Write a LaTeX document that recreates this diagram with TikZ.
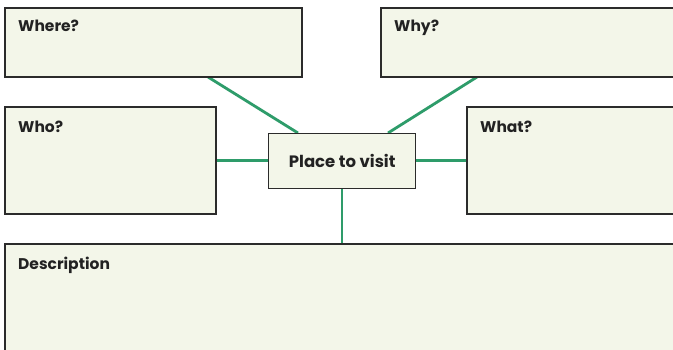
\documentclass[tikz,border=0pt]{standalone}
\usepackage{fontspec}
\setmainfont{Poppins}
\usetikzlibrary{calc}
\pgfdeclarelayer{background}
\pgfsetlayers{background,main}
\definecolor{boxfill}{HTML}{F3F6E9}
\definecolor{boxline}{HTML}{2B2B2B}
\definecolor{conn}{HTML}{2E9C6A}
\definecolor{txt}{HTML}{222222}
\begin{document}
\begin{tikzpicture}[x=1pt,y=-1pt,
  panel/.style={draw=boxline,line width=1.4pt,fill=boxfill},
  lbl/.style={anchor=base west,inner sep=0pt,font=\fontsize{15.5}{18}\selectfont\bfseries,text=txt},
  link/.style={draw=conn,line width=2.8pt}]
\useasboundingbox (0,0) rectangle (673,349);
\begin{pgfonlayer}{background}
\clip (0,0) rectangle (673,349);
\fill[white] (0,0) rectangle (673,349);
\end{pgfonlayer}
\clip (0,0) rectangle (673,349);
\draw[panel] (5,8) rectangle (302,77);
\coordinate (whereNW) at (5,8);
\draw[panel] (381,8) rectangle (690,77);
\coordinate (whyNW) at (381,8);
\draw[panel] (5,107) rectangle (216,214);
\coordinate (whoNW) at (5,107);
\draw[panel] (467,107) rectangle (690,214);
\coordinate (whatNW) at (467,107);
\draw[panel] (5,244) rectangle (690,360);
\coordinate (descNW) at (5,244);
% connector end points
\coordinate (whereB) at (208,77);
\coordinate (whyB) at (477,77);
\coordinate (whoR) at (216,160.5);
\coordinate (whatL) at (467,160.5);
\coordinate (descT) at (342,244);
\node[panel,minimum width=147pt,minimum height=55pt,inner sep=0pt,anchor=north west,
  font=\fontsize{16.5}{18}\selectfont\bfseries,text=txt] (place) at (268,133) {Place to visit};
\begin{pgfonlayer}{background}
\draw[link] (whereB) -- (place.north west -| 298,0);
\draw[link] (whyB) -- (place.north west -| 388,0);
\draw[link] (whoR) -- (place.west |- whoR);
\draw[link] (whatL) -- (place.east |- whatL);
\draw[link] (descT) -- (place.south west -| descT);
\end{pgfonlayer}
\node[lbl] (whereT) at ($(whereNW)+(13,23)$) {Where?};
\node[lbl] (whyT) at ($(whyNW)+(13,23)$) {Why?};
\node[lbl] (whoT) at ($(whoNW)+(13,25)$) {Who?};
\node[lbl] (whatT) at ($(whatNW)+(13,25)$) {What?};
\node[lbl] (descT2) at ($(descNW)+(13,25)$) {Description};
\end{tikzpicture}
\end{document}
